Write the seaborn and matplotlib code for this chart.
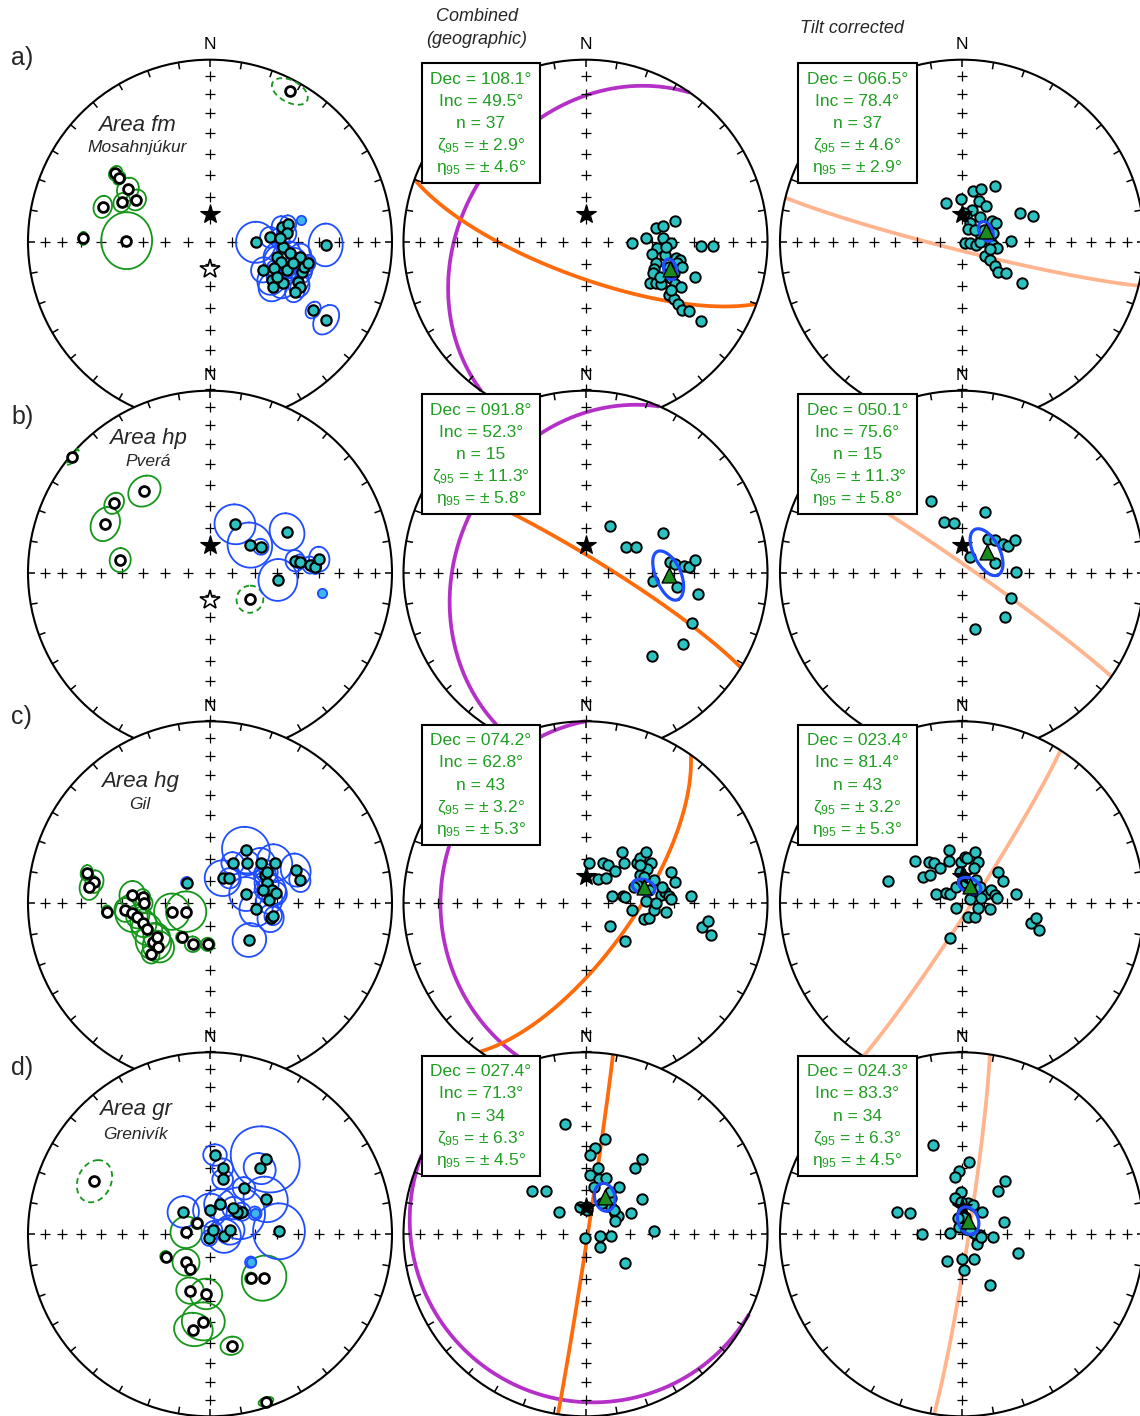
import numpy as np
import pandas as pd
import matplotlib
matplotlib.use("Agg")
import matplotlib.pyplot as plt
import seaborn as sns
from matplotlib.patches import Circle, Rectangle

# ---------------------------------------------------------------- colours
GREEN = "#15961a"
TXT_GREEN = "#1f9e22"
BLUE = "#1f4dff"
CYAN = "#2cc2c2"
PALE = "#3fb6ea"
ORANGE = "#ff6a0a"
PURPLE = "#b530c8"
PEACH = "#ffb48e"
TRI = "#1b8c1b"

# expected (GAD) inclination for the study area
gad_inc = 77.7

# ======================================================= Area fm (Mosahnjukur)
fm_rev_dec = [306, 305, 302.5, 299.5, 294, 288, 271.5, 270.7]
fm_rev_inc = [-36, -39, -45.5, -51.5, -46, -38, -31, -52]
fm_rev_a95 = [3, 2.8, 5, 4.5, 4, 4.5, 2.5, 12]
fm_rej_dec = [28]
fm_rej_inc = [-7]
fm_rej_a95 = [6.5]
fm_nor_dec = [90.7, 85.8, 78.2, 77.3, 94.4, 102.7, 106.2, 99.5, 91.6, 112.6, 110.3, 108.1, 121.8, 119.6,
              114.4, 117.7, 116.6, 104.5, 98.3, 104.9, 125.4, 123.5, 123.9, 83.7, 117.9, 120.5, 87.2, 102.4]
fm_nor_inc = [69.4, 63, 57, 53.7, 57.1, 59.2, 56.6, 48.5, 36.4, 58.7, 53, 46, 57.2, 51.8,
              45.8, 56, 44, 51, 53.4, 45.6, 55, 32.5, 24, 55.1, 62.9, 45, 58.4, 44]
fm_nor_a95 = [9, 4.5, 4.5, 3.7, 3, 6, 8, 5.5, 8.5, 3.5, 5, 5, 6.5, 6.5,
              5, 4.5, 4.5, 6.5, 5, 4.5, 6.5, 3.5, 6, 4.5, 5.5, 4.5, 4.5, 3.5]
fm_pale_dec = [76.6]
fm_pale_inc = [47.4]
fm_pale_a95 = [0]
fm_geo_dec = [91.2, 86.8, 79.2, 78.6, 76.9, 87, 90.7, 95.3, 100.7, 99.4, 100, 101, 106.9, 112, 115, 106.7,
              113.1, 122.5, 120.3, 119.1, 115.3, 115.2, 107.8, 122.6, 123.1, 124, 125.4, 123.9, 124.3,
              92.1, 91.9, 109.3, 103.3, 115, 119.6, 104.5, 93.5]
fm_geo_inc = [69.1, 62.6, 57.7, 54.1, 48, 54.8, 51.4, 57.5, 59.4, 53.3, 48.3, 46.3, 56.5, 56.7, 56.3, 50.5,
              47.7, 55.5, 53.2, 50.5, 44.5, 41.5, 37.1, 44.8, 41.7, 38.5, 35.5, 32.3, 24,
              36.4, 30.4, 47.4, 47.2, 52.6, 45.3, 44.4, 53.3]
fm_tc_dec = [338.2, 358.2, 12.2, 19.6, 30.4, 22.5, 34.3, 17.5, 9.7, 24.5, 25.8, 35.3, 54.5, 60.6, 63.8, 70.1,
             110, 101.7, 103.5, 86.5, 96.1, 100.9, 88.8, 121.7, 123.5, 126.3, 129.8, 125.3, 125,
             75.5, 72.7, 3.4, 105.3, 47.3, 61.7, 74.8, 90]
fm_tc_inc = [71.2, 71, 66.6, 65, 60.9, 70.1, 70.6, 75.1, 78.4, 81, 83.8, 76.3, 73.8, 72.6, 61, 55.9,
             88.7, 86.5, 83.7, 77.6, 76.1, 74.3, 68.2, 78.1, 75.1, 71.8, 69, 66, 57.2,
             81.1, 77.4, 77.3, 77.2, 82.3, 79, 75.7, 82.1]
# mean: dec, inc, zeta95, eta95, azimuth of the zeta axis
fm_geo_mean = [108.1, 49.5, 2.9, 4.6, 68]
fm_tc_mean = [66.5, 78.4, 4.6, 2.9, 154]
# planes: dip direction, dip
fm_fit_geo = [200, 74]
fm_bedding = [305, 33.5]
fm_fit_tc = [194, 86]

# ============================================================ Area hp (Pvera)
hp_rev_dec = [321.2, 305.9, 294.9, 278]
hp_rev_inc = [-41.9, -35.2, -36.6, -48.7]
hp_rev_a95 = [7, 4.5, 7, 5]
hp_rej_dec = [310, 123.6]
hp_rej_inc = [-1, -68.5]
hp_rej_a95 = [3, 6]
hp_nor_dec = [27.3, 55.3, 62.9, 62.1, 96.1, 82, 83, 85.6, 86.7, 82.9]
hp_nor_inc = [65.5, 68.2, 64.4, 50.3, 59.1, 51, 48.8, 44.2, 41.7, 39.3]
hp_nor_a95 = [9, 10, 3.5, 8, 9, 4.5, 3, 3.5, 3, 5]
hp_pale_dec = [100.4]
hp_pale_inc = [37.6]
hp_pale_a95 = [0]
hp_geo_dec = [27.3, 57, 63.4, 62.6, 82.6, 84.5, 86.1, 87, 83.4, 96.7, 98.7, 100.9, 115.1, 126.1, 141.2]
hp_geo_inc = [66.2, 68.6, 64.5, 50.5, 51.4, 49, 45, 42.3, 39.5, 59.3, 47.8, 37.2, 35.5, 33.9, 41.1]
hp_tc_dec = [336.5, 340, 350.8, 20.4, 37.9, 45, 55.3, 59.9, 58.2, 25.7, 73, 89.3, 117.4, 136.3, 167.4]
hp_tc_inc = [54.5, 65.9, 67.6, 60.7, 71, 69.3, 67.6, 66.1, 62.1, 82, 74.7, 65.9, 65, 62.2, 63.9]
hp_geo_mean = [91.8, 52.3, 11.3, 5.8, 153]
hp_tc_mean = [50.1, 75.6, 11.3, 5.8, 153]
hp_fit_geo = [31.4, 83]
hp_bedding = [294, 29.6]
hp_fit_tc = [34.8, 86.5]

# ============================================================== Area hg (Gil)
hg_rev_dec = [283.9, 280.6, 277.6, 265.4, 276, 275.1, 265.5, 262.7, 259.6, 253.3, 247.7,
              235.9, 230, 229.3, 257.6, 250.7, 219.8, 202.9, 183.2, 238, 270]
hg_rev_inc = [-30.8, -35.6, -33.6, -42.6, -54.6, -59.5, -51.3, -54.5, -56.4, -58.6, -59.2,
              -59.1, -59.6, -54.5, -72.5, -78.7, -70.2, -70.1, -71.6, -61.7, -60.2]
hg_rev_a95 = [3, 4.5, 5, 2.5, 6, 3.5, 5, 8, 5, 6, 7, 8, 7, 4, 8, 9, 2.5, 3.5, 3, 6, 4]
hg_rej_dec = []
hg_rej_inc = []
hg_rej_a95 = []
hg_nor_dec = [311.5, 26.9, 37.7, 29.6, 34, 42.6, 51.5, 57.8, 68.8, 75.5, 62.8,
              70.6, 77.8, 75.5, 86.8, 97.4, 103.9, 101.3, 133, 60.9, 76, 81.4]
hg_nor_inc = [76.1, 77.4, 75.9, 69.4, 61, 65.3, 60.6, 55.4, 48.1, 47.7, 62.2,
              63, 61.6, 73.4, 63.3, 69.2, 61.9, 61, 65.8, 60.8, 65.3, 59.9]
hg_nor_a95 = [2.5, 8, 4.5, 5, 10.5, 5.5, 6.5, 8, 7, 5, 5, 5.5, 6.5, 7.5, 6, 7.5, 6, 4, 7.5, 5, 4, 5]
hg_pale_dec = []
hg_pale_inc = []
hg_pale_a95 = []
hg_geo_dec = [4.7, 23.9, 30.7, 42.6, 35.7, 43.8, 51.9, 50, 50.1, 58.3, 61.1, 62.5, 71.2, 27.1, 38.7,
              74.3, 78.9, 80.6, 98.2, 105.3, 103.3, 95.6, 87.8, 83.7, 81.7, 85, 87.3, 96, 69.8, 76.4,
              86, 132.7, 133.8, 101.3, 98, 104.2, 65.5, 78.1, 70.5, 55.1, 71, 90, 77.8]
hg_geo_inc = [72.1, 70.4, 70.1, 70.2, 61.7, 65.2, 60.4, 58, 54.1, 55.1, 58.2, 62.5, 57.4, 77.9, 75.7,
              77.9, 73, 71.9, 68.8, 62.8, 60.7, 59.1, 63, 55.9, 53.4, 52.1, 51, 53.5, 48.3, 48.2,
              41.7, 75.2, 65.7, 35, 32.3, 29.8, 61, 60.8, 65.4, 59.8, 67.1, 58.4, 54.6]
hg_tc_dec = [287, 311.8, 321.6, 325.1, 328.3, 304.3, 311.2, 346.3, 342.6, 289.5, 303, 307.1, 231.8,
             359.2, 3.3, 6.3, 14, 21.3, 18.5, 156.8, 136.5, 62.5, 107.4, 102.2, 68.6, 65.7, 75.8,
             81.9, 48.7, 61, 80.6, 198.3, 106.2, 101.4, 109, 3.7, 31.7, 355.8, 39.6, 46.8, 12.4,
             341.4, 75.5]
hg_tc_inc = [55, 61.4, 66.2, 67.8, 71.5, 68.8, 70.7, 65.4, 70.4, 77.5, 81.3, 83.1, 86.8,
             71.6, 69.1, 69.7, 66.5, 70.3, 73.5, 83.2, 81.7, 86.1, 82.5, 77.4, 78.6, 75.6, 75,
             74.2, 68.5, 69.1, 65.3, 73.5, 57.7, 55.7, 53, 78.1, 77.7, 75.9, 82.3, 79.2, 80.9,
             82.2, 81.1]
hg_geo_mean = [74.2, 62.8, 3.2, 5.3, 15]
hg_tc_mean = [23.4, 81.4, 3.2, 5.3, 25]
hg_fit_geo = [125.4, 68.7]
hg_bedding = [270, 21.4]
hg_fit_tc = [122.8, 86.3]

# ========================================================= Area gr (Grenivik)
gr_rev_dec = [274.8, 309.6, 243.2, 220.6, 209.7, 199.5, 183.8, 184.4, 189.9, 169, 161.5, 129, 137.2]
gr_rev_inc = [-79.3, -82.3, -67.8, -73.5, -72, -63.1, -63.1, -50.2, -45.8, -37.6, -3.5, -58.5, -63.1]
gr_rev_a95 = [7, 2.5, 2.5, 6, 2, 6, 7, 9, 8, 4.5, 2.5, 10, 2.5]
gr_rej_dec = [294.7]
gr_rej_inc = [-30.6]
gr_rej_a95 = [8.5]
gr_nor_dec = [3.6, 10.9, 13, 36.4, 37.1, 36.5, 57.9, 18.4, 0, 309.9, 54.4, 54.5, 87.5, 190.7,
              96.9, 50.8, 41.9, 77.9, 37.5]
gr_nor_inc = [54, 59.7, 64.7, 47.2, 52.6, 64.3, 60.3, 75.9, 79.3, 74.4, 73.8, 72.6, 58.7, 88.3,
              83.7, 74.2, 74.3, 80.9, 87.6]
gr_nor_a95 = [5, 4.5, 4.5, 15, 7, 5, 10, 7, 7.5, 7, 11.5, 4, 12, 3.5, 7.5, 3, 5, 6.5, 4]
gr_pale_dec = [65, 124.5]
gr_pale_inc = [67.8, 67.9]
gr_pale_a95 = [3, 2.5]
gr_geo_dec = [349.7, 11.3, 6, 3.6, 10.5, 4.8, 13.5, 19.7, 36.7, 37.1, 35.3, 308.9, 317.6, 310.2, 3.5,
              58, 43, 54.2, 60.5, 65.6, 65.3, 194, 95.7, 93.8, 130.9, 125.4, 87.3, 4, 28.3, 34.8,
              49.3, 9.9, 349.7, 30.4]
gr_geo_inc = [38.4, 45.7, 50.7, 54, 59.5, 63.2, 64.4, 63.2, 47, 52.6, 64.1, 59.1, 63.8, 74.3, 77.6,
              60.2, 73.2, 73.5, 73.4, 75.6, 67.5, 88.2, 83.7, 78.5, 81.6, 68.1, 58.9, 79.1, 74.2, 70.3,
              73.3, 68.3, 77.4, 67.9]
gr_tc_dec = [341.7, 5.3, 357, 352.7, 38.7, 39.7, 359.2, 348.5, 10.8, 42.1, 288.7, 292.1, 74.1, 270,
             274.6, 92.3, 109.6, 122.9, 94.4, 108.4, 208.7, 179.1, 154.4, 177.3, 151.4, 338.5, 82.2,
             41.3, 357.7, 20.6, 8.7, 346, 97, 60.8]
gr_tc_inc = [47.3, 57.1, 61.3, 64.1, 59.2, 64.7, 70.9, 73.6, 75.6, 76.4, 59.1, 65, 70.4, 72.1,
             84.5, 82.1, 82.4, 82, 76.1, 63.7, 76.4, 78.8, 77.6, 74, 64, 86.3, 84.7,
             87, 75.4, 76, 82, 82.6, 81.3, 86.1]
gr_geo_mean = [27.4, 71.3, 6.3, 4.5, 170]
gr_tc_mean = [24.3, 83.3, 6.3, 4.5, 160]
gr_fit_geo = [98.7, 89]
gr_bedding = [206, 9.5]
gr_fit_tc = [98.8, 87]

area_tags = ["a)", "b)", "c)", "d)"]
area_names = ["Area fm", "Area hp", "Area hg", "Area gr"]
area_places = ["Mosahnjúkur", "Pverá", "Gil", "Grenivík"]
# site nets that also show the expected normal/reverse directions
area_show_gad = [True, True, False, False]

areas = []
for p in ["fm", "hp", "hg", "gr"]:
    g = globals()
    areas.append(dict(
        rev=(g[p + "_rev_dec"], g[p + "_rev_inc"], g[p + "_rev_a95"]),
        rej=(g[p + "_rej_dec"], g[p + "_rej_inc"], g[p + "_rej_a95"]),
        nor=(g[p + "_nor_dec"], g[p + "_nor_inc"], g[p + "_nor_a95"]),
        pale=(g[p + "_pale_dec"], g[p + "_pale_inc"], g[p + "_pale_a95"]),
        geo=(g[p + "_geo_dec"], g[p + "_geo_inc"]), tc=(g[p + "_tc_dec"], g[p + "_tc_inc"]),
        geo_mean=g[p + "_geo_mean"], tc_mean=g[p + "_tc_mean"],
        fit_geo=g[p + "_fit_geo"], bedding=g[p + "_bedding"], fit_tc=g[p + "_fit_tc"]))


# ------------------------------------------------ equal-area (Schmidt) net maths
def to_xy(dec, inc):
    d = np.radians(np.asarray(dec, float))
    i = np.radians(np.abs(np.asarray(inc, float)))
    r = np.sqrt(2.0) * np.sin((np.pi / 2 - i) / 2)
    return r * np.sin(d), r * np.cos(d)


def unit(dec, inc):
    d, i = np.radians(dec), np.radians(inc)
    return np.array([np.cos(i) * np.cos(d), np.cos(i) * np.sin(d), np.sin(i)])


def vec_to_xy(v):
    n, e, z = v
    inc = np.degrees(np.arcsin(np.clip(np.abs(z), 0, 1)))
    dec = np.degrees(np.arctan2(e, n))
    return to_xy(dec, inc)


def cone_xy(dec, inc, a, b, az, npts=181):
    """Confidence ellipse (semi-axes a along azimuth az, b perpendicular, degrees)."""
    inc = abs(inc)
    v = unit(dec, inc)
    d, i = np.radians(dec), np.radians(inc)
    u_r = np.array([np.sin(i) * np.cos(d), np.sin(i) * np.sin(d), -np.cos(i)])
    u_h = np.array([-np.sin(d), np.cos(d), 0.0])

    def tdir(theta):
        t = np.radians(theta - dec)
        return np.cos(t) * u_r + np.sin(t) * u_h

    ea, eb = tdir(az), tdir(az + 90)
    t = np.linspace(0, 2 * np.pi, npts)
    w = (np.radians(a) * np.cos(t))[None, :] * ea[:, None] + (np.radians(b) * np.sin(t))[None, :] * eb[:, None]
    rho = np.linalg.norm(w, axis=0)
    p = np.cos(rho)[None, :] * v[:, None] + np.sin(rho)[None, :] * w / np.where(rho == 0, 1, rho)[None, :]
    return vec_to_xy(p)


def plane_xy(dipdir, dip):
    a, dp = np.radians(dipdir), np.radians(dip)
    s = np.array([np.cos(a - np.pi / 2), np.sin(a - np.pi / 2), 0.0])
    dv = np.array([np.cos(dp) * np.cos(a), np.cos(dp) * np.sin(a), np.sin(dp)])
    t = np.linspace(0, np.pi, 241)
    p = np.cos(t)[None, :] * s[:, None] + np.sin(t)[None, :] * dv[:, None]
    return vec_to_xy(p)


# ---------------------------------------------------------------- drawing
sns.set_theme(style="white")
plt.rcParams["font.family"] = ["Liberation Sans", "DejaVu Sans"]
plt.rcParams["mathtext.fontset"] = "custom"
plt.rcParams["mathtext.rm"] = "Liberation Sans"
plt.rcParams["mathtext.it"] = "Liberation Sans:italic"
plt.rcParams["mathtext.bf"] = "Liberation Sans:bold"

W, H = 1140, 1416
fig = plt.figure(figsize=(W / 100, H / 100), dpi=100)
fig.patch.set_facecolor("white")

col_x = [210, 585.5, 962]
row_y = [241.7, 572.7, 903.3, 1234.3]
R = 182.0
E = 1.14
tag_y = [58.3, 416.7, 716.7, 1068]
label_pos = [(-0.40, 0.64, 0.515), (-0.34, 0.74, 0.61), (-0.385, 0.667, 0.545), (-0.41, 0.685, 0.55)]


def new_axes(cx, cy):
    ax = fig.add_axes([(cx - R * E) / W, 1 - (cy + R * E) / H, 2 * R * E / W, 2 * R * E / H])
    ax.set_xlim(-E, E)
    ax.set_ylim(-E, E)
    ax.patch.set_visible(False)
    ax.set_axis_off()
    return ax


def draw_net(ax, filled_star, open_star):
    ax.add_patch(Circle((0, 0), 1, facecolor="white", edgecolor="none", zorder=0))
    ax.add_patch(Circle((0, 0), 1, facecolor="none", edgecolor="black", lw=1.5, zorder=3))
    for az in range(0, 360, 10):
        a = np.radians(az)
        ax.plot([0.962 * np.sin(a), np.sin(a)], [0.962 * np.cos(a), np.cos(a)],
                color="black", lw=1.1, zorder=3, solid_capstyle="butt")
    colat = np.arange(10, 90, 10)
    rr = np.sqrt(2) * np.sin(np.radians(colat) / 2)
    z = np.zeros_like(rr)
    xs = np.concatenate([[0], rr, -rr, z, z])
    ys = np.concatenate([[0], z, z, rr, -rr])
    ax.plot(xs, ys, linestyle="none", marker="+", color="black", ms=7.5, mew=0.9, zorder=2.5)
    ax.text(0, 1.082, "N", ha="center", va="center", fontsize=12.5, color="black")
    if filled_star:
        sx, sy = to_xy([0], [gad_inc])
        ax.plot(sx, sy, marker="*", ms=15, mfc="black", mec="black", mew=0.8, linestyle="none", zorder=6)
    if open_star:
        ox, oy = to_xy([180], [-gad_inc])
        ax.plot(ox, oy, marker="*", ms=15, mfc="white", mec="black", mew=1.2, linestyle="none", zorder=6)


def rings(ax, group, color, ls):
    for d, i, a in zip(*group):
        if a > 0:
            x, y = cone_xy(d, i, a, a, 0)
            ax.plot(x, y, color=color, lw=1.3, ls=ls, zorder=4)


def dots(ax, dec, inc, fill, edge, size, lw, z=5, marker="o"):
    if len(dec) == 0:
        return
    x, y = to_xy(dec, inc)
    df = pd.DataFrame({"x": x, "y": y})
    sns.scatterplot(data=df, x="x", y="y", ax=ax, marker=marker, s=size, color=fill,
                    edgecolor=edge, linewidth=lw, zorder=z, legend=False)


def site_panel(ax, k, a):
    draw_net(ax, area_show_gad[k], area_show_gad[k])
    rings(ax, a["rev"], GREEN, "-")
    rings(ax, a["rej"], GREEN, (0, (3.2, 2.2)))
    rings(ax, a["nor"], BLUE, "-")
    rings(ax, a["pale"], BLUE, "-")
    dots(ax, a["nor"][0], a["nor"][1], CYAN, "black", 55, 1.6)
    dots(ax, a["pale"][0], a["pale"][1], PALE, BLUE, 45, 1.3)
    dots(ax, a["rev"][0], a["rev"][1], "white", "black", 50, 2.0)
    dots(ax, a["rej"][0], a["rej"][1], "white", "black", 50, 2.0)
    lx, ly1, ly2 = label_pos[k]
    ax.text(lx, ly1, area_names[k], ha="center", va="center", fontsize=16, style="italic")
    ax.text(lx, ly2, area_places[k], ha="center", va="center", fontsize=12.5, style="italic")
    ax.set_xlim(-E, E)
    ax.set_ylim(-E, E)
    ax.set_axis_off()


def mean_panel(ax, pts, mean, planes):
    draw_net(ax, True, False)
    for (dd, dp), col in planes:
        x, y = plane_xy(dd, dp)
        ax.plot(x, y, color=col, lw=2.7, zorder=2, solid_capstyle="butt")
    dots(ax, pts[0], pts[1], CYAN, "black", 56, 1.4)
    md, mi, zeta, eta, zaz = mean
    x, y = cone_xy(md, mi, zeta, eta, zaz)
    ax.plot(x, y, color=BLUE, lw=2.3, zorder=7)
    dots(ax, [md], [mi], TRI, "black", 115, 1.0, z=8, marker="^")
    ax.add_patch(Rectangle((-0.90, 0.321), 0.65, 0.659, facecolor="white", edgecolor="black",
                           lw=1.5, zorder=10))
    lines = [f"Dec = {md:05.1f}°", f"Inc = {mi:.1f}°", f"n = {len(pts[0])}",
             f"ζ$_{{95}}$ = ± {zeta:.1f}°", f"η$_{{95}}$ = ± {eta:.1f}°"]
    for j, s in enumerate(lines):
        ax.text(-0.575, 0.868 - 0.1215 * j, s, ha="center", va="baseline", fontsize=12.5,
                color=TXT_GREEN, zorder=11)
    ax.set_xlim(-E, E)
    ax.set_ylim(-E, E)
    ax.set_axis_off()


for k, a in enumerate(areas):
    cy = row_y[k]
    site_panel(new_axes(col_x[0], cy), k, a)
    mean_panel(new_axes(col_x[1], cy), a["geo"], a["geo_mean"],
               [(a["bedding"], PURPLE), (a["fit_geo"], ORANGE)])
    mean_panel(new_axes(col_x[2], cy), a["tc"], a["tc_mean"], [(a["fit_tc"], PEACH)])
    fig.text(11.5 / W, 1 - tag_y[k] / H, area_tags[k], ha="left", va="center", fontsize=18)

fig.text(476.7 / W, 1 - 16.7 / H, "Combined", ha="center", va="center", fontsize=13, style="italic")
fig.text(476.7 / W, 1 - 39.3 / H, "(geographic)", ha="center", va="center", fontsize=13, style="italic")
fig.text(851.7 / W, 1 - 28.3 / H, "Tilt corrected", ha="center", va="center", fontsize=13, style="italic")

fig.savefig("out.png", dpi=100)
